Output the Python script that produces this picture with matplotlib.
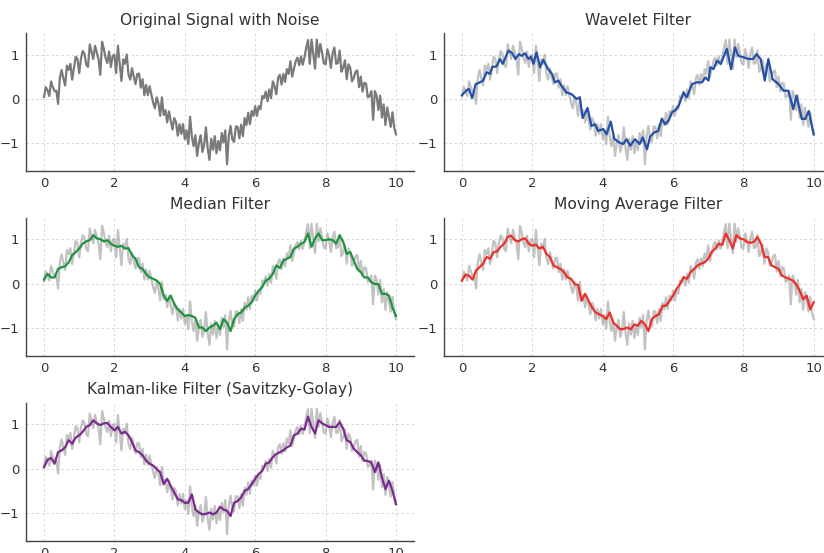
import numpy as np
import matplotlib.pyplot as plt

# noisy signal (step 0.05)
t = np.linspace(0, 10, 201)
noisy = [
    0.05, 0.27, 0.20, 0.07, 0.40, 0.27, 0.18, 0.19, -0.11, 0.48,
    0.66, 0.47, 0.31, 0.76, 0.66, 0.80, 0.44, 0.70, 0.96, 0.91,
    0.59, 0.92, 1.09, 1.03, 0.78, 0.73, 1.24, 1.08, 0.91, 1.21,
    1.05, 0.90, 0.55, 1.30, 1.14, 0.93, 0.82, 1.08, 0.73, 0.98,
    1.01, 0.59, 1.21, 0.82, 0.41, 0.90, 0.80, 1.01, 0.56, 0.44,
    0.70, 0.51, 0.34, 0.57, 0.58, 0.26, 0.45, 0.09, 0.32, 0.09,
    0.29, 0.11, -0.08, -0.21, 0.04, -0.09, -0.38, 0.04, -0.36, -0.25,
    -0.53, -0.28, -0.49, -0.69, -0.43, -0.52, -0.83, -0.57, -0.79, -0.57,
    -0.91, -0.71, -1.02, -0.40, -0.85, -1.07, -0.82, -1.29, -1.00, -0.82,
    -1.20, -1.04, -0.64, -1.12, -1.38, -0.90, -1.15, -0.84, -1.23, -0.95,
    -1.16, -0.77, -0.98, -0.71, -1.48, -0.84, -0.61, -0.92, -0.97, -0.62,
    -0.63, -0.89, -0.58, -0.84, -0.43, -0.59, -0.31, -0.57, -0.27, -0.38,
    -0.16, -0.38, -0.16, -0.23, 0.07, 0.02, 0.17, -0.05, 0.22, 0.02,
    0.40, 0.29, 0.11, 0.48, 0.55, 0.33, 0.57, 0.39, 0.68, 0.57,
    0.86, 0.51, 0.68, 0.86, 0.94, 0.77, 0.97, 0.78, 0.95, 1.17,
    1.34, 0.80, 1.35, 1.03, 0.69, 1.35, 0.95, 1.25, 1.05, 0.81,
    0.79, 1.13, 0.99, 0.71, 1.04, 1.17, 0.80, 0.82, 1.10, 0.62,
    0.71, 0.88, 0.45, 0.79, 0.71, 0.40, 0.48, 0.62, 0.65, 0.27,
    0.51, 0.17, 0.37, 0.35, 0.04, 0.07, 0.18, -0.47, 0.18, 0.08,
    -0.25, 0.08, -0.42, -0.12, -0.59, -0.19, -0.41, -0.63, -0.30, -0.65,
    -0.80,
]

# wavelet filter (irregular knots)
wavelet_t = [0.0, 0.13, 0.2, 0.29, 0.39, 0.51, 0.6, 0.7, 0.8, 0.86,
             0.98, 1.08, 1.16, 1.32, 1.43, 1.52, 1.62, 1.7, 1.79, 1.89,
             1.96, 2.03, 2.12, 2.22, 2.31, 2.45, 2.56, 2.64, 2.74, 2.83,
             2.97, 3.12, 3.26, 3.35, 3.43, 3.57, 3.68, 3.78, 3.87, 4.02,
             4.11, 4.23, 4.33, 4.46, 4.58, 4.68, 4.78, 4.92, 5.05, 5.14,
             5.26, 5.35, 5.46, 5.58, 5.68, 5.78, 5.88, 5.97, 6.07, 6.16,
             6.30, 6.39, 6.54, 6.68, 6.82, 6.92, 7.01, 7.06, 7.15, 7.25,
             7.36, 7.53, 7.65, 7.76, 7.86, 8.00, 8.14, 8.28, 8.37, 8.49,
             8.61, 8.71, 8.83, 9.00, 9.14, 9.28, 9.42, 9.51, 9.66, 9.76,
             9.86, 10.0]
wavelet = [0.09, 0.20, 0.23, 0.02, 0.34, 0.38, 0.42, 0.61, 0.57, 0.73,
           0.74, 0.91, 0.80, 1.10, 1.04, 0.91, 1.02, 0.98, 1.04, 0.91,
           0.96, 0.80, 1.06, 0.72, 0.89, 0.68, 0.57, 0.38, 0.42, 0.30,
           0.15, 0.11, 0.00, 0.04, -0.43, -0.20, -0.61, -0.57, -0.72, -0.68,
           -0.80, -0.51, -0.90, -0.98, -1.02, -0.91, -1.06, -0.91, -1.02, -0.87,
           -1.14, -0.85, -0.76, -0.72, -0.45, -0.57, -0.48, -0.30, -0.25, -0.15,
           0.15, 0.04, 0.34, 0.38, 0.38, 0.49, 0.42, 0.72, 0.68, 0.87,
           0.80, 1.14, 0.68, 1.17, 0.98, 0.95, 0.91, 0.91, 1.02, 0.91,
           0.42, 0.91, 0.45, 0.34, 0.19, 0.19, -0.23, 0.08, -0.45, -0.45,
           -0.27, -0.80]

# the other filters, step 0.1
t_f = np.linspace(0, 10, 101)
median = [
    0.09, 0.22, 0.14, 0.14, 0.33, 0.37, 0.39, 0.48, 0.64, 0.71,
    0.79, 0.90, 0.95, 0.98, 1.09, 1.02, 1.00, 0.95, 0.98, 0.90,
    0.85, 0.83, 0.85, 0.79, 0.80, 0.64, 0.56, 0.37, 0.33, 0.22,
    0.14, 0.11, 0.07, -0.01, -0.27, -0.39, -0.27, -0.46, -0.58, -0.65,
    -0.73, -0.71, -0.73, -0.77, -0.99, -0.99, -1.07, -0.99, -0.95, -0.88,
    -1.03, -0.80, -0.88, -1.07, -0.80, -0.69, -0.65, -0.54, -0.50, -0.42,
    -0.27, -0.16, -0.08, 0.07, 0.11, 0.22, 0.41, 0.35, 0.52, 0.56,
    0.60, 0.79, 0.83, 0.90, 0.94, 1.13, 0.83, 1.02, 1.13, 0.98,
    0.98, 1.00, 0.98, 0.90, 1.09, 0.94, 0.67, 0.71, 0.52, 0.33,
    0.26, 0.14, 0.14, 0.03, -0.01, -0.01, -0.23, -0.23, -0.27, -0.54,
    -0.73,
]
moving_avg = [
    0.07, 0.20, 0.18, 0.09, 0.30, 0.37, 0.45, 0.60, 0.56, 0.71,
    0.73, 0.83, 0.90, 1.05, 1.08, 0.98, 0.95, 1.00, 1.02, 0.90,
    0.85, 0.88, 0.79, 0.83, 0.67, 0.60, 0.41, 0.37, 0.33, 0.26,
    0.14, 0.11, -0.01, -0.03, -0.39, -0.23, -0.39, -0.54, -0.65, -0.69,
    -0.73, -0.80, -0.65, -0.88, -0.95, -1.03, -1.02, -0.99, -1.03, -0.92,
    -0.95, -0.84, -0.92, -1.07, -0.80, -0.73, -0.69, -0.50, -0.50, -0.39,
    -0.27, -0.12, -0.01, 0.14, 0.11, 0.26, 0.33, 0.41, 0.45, 0.48,
    0.56, 0.71, 0.79, 0.90, 0.87, 1.13, 0.98, 0.79, 1.09, 1.02,
    1.00, 0.94, 0.92, 0.94, 1.05, 0.90, 0.60, 0.60, 0.41, 0.37,
    0.33, 0.18, 0.14, 0.11, 0.07, -0.01, -0.16, -0.35, -0.27, -0.58,
    -0.42,
]
savgol = [
    0.03, 0.20, 0.24, 0.11, 0.37, 0.41, 0.48, 0.64, 0.56, 0.70,
    0.75, 0.83, 0.94, 0.98, 1.09, 1.02, 0.98, 1.02, 1.03, 0.94,
    0.86, 0.94, 0.79, 0.83, 0.75, 0.60, 0.41, 0.37, 0.30, 0.18,
    0.11, 0.07, -0.01, -0.08, -0.35, -0.23, -0.39, -0.54, -0.69, -0.71,
    -0.77, -0.77, -0.58, -0.92, -0.99, -1.03, -1.02, -0.99, -1.03, -0.99,
    -0.86, -0.92, -0.95, -1.07, -0.77, -0.73, -0.65, -0.50, -0.46, -0.35,
    -0.23, -0.12, -0.05, 0.11, 0.14, 0.26, 0.33, 0.37, 0.41, 0.48,
    0.52, 0.75, 0.79, 0.90, 0.88, 1.17, 0.94, 0.79, 1.09, 1.02,
    0.98, 0.94, 0.94, 0.94, 1.05, 0.90, 0.64, 0.60, 0.45, 0.37,
    0.30, 0.18, 0.17, 0.14, -0.08, 0.14, -0.20, -0.46, -0.27, -0.50,
    -0.80,
]

plt.rcParams['font.family'] = 'DejaVu Sans'
plt.rcParams['text.color'] = '#333333'
plt.rcParams['axes.edgecolor'] = '#444444'
plt.rcParams['xtick.color'] = '#333333'
plt.rcParams['ytick.color'] = '#333333'

fig = plt.figure(figsize=(8.24, 5.53), dpi=100)

W, H = 824.0, 553.0
# axes boxes in pixels: left, top, right, bottom
boxes = [
    (26.4, 33.4, 413.6, 170.5),
    (444.4, 33.4, 831.3, 170.5),
    (26.4, 217.5, 413.6, 355.5),
    (444.4, 217.5, 831.3, 355.5),
    (26.4, 402.5, 413.6, 540.5),
]
axes = []
for (l, tp, r, b) in boxes:
    ax = fig.add_axes([l / W, 1 - b / H, (r - l) / W, (b - tp) / H])
    axes.append(ax)

panels = [
    ("Original Signal with Noise", None, None, None),
    ("Wavelet Filter", wavelet_t, wavelet, '#2451a6'),
    ("Median Filter", t_f, median, '#1f9440'),
    ("Moving Average Filter", t_f, moving_avg, '#ec2f2a'),
    ("Kalman-like Filter (Savitzky-Golay)", t_f, savgol, '#7b2a8f'),
]

for ax, (title, xs, ys, col) in zip(axes, panels):
    if xs is None:
        ax.plot(t, noisy, color='#7a7a7a', lw=1.6)
    else:
        ax.plot(t, noisy, color='#9a9a9a', lw=1.6, alpha=0.6)
        ax.plot(xs, ys, color=col, lw=1.6)
    ax.set_title(title, fontsize=11.2, color='#333333', pad=6)
    ax.set_xlim(-0.5, 10.5)
    ax.set_ylim(-1.62, 1.49)
    ax.set_xticks([0, 2, 4, 6, 8, 10])
    ax.set_yticks([-1, 0, 1])
    ax.grid(True, ls=(0, (3, 3)), color='#d0d0d0', lw=0.6)
    ax.tick_params(length=0, labelsize=9.5, pad=5)
    for s in ['top', 'right']:
        ax.spines[s].set_visible(False)
    ax.spines['left'].set_linewidth(1.0)
    ax.spines['bottom'].set_linewidth(1.0)

fig.savefig('out.png', dpi=100)
